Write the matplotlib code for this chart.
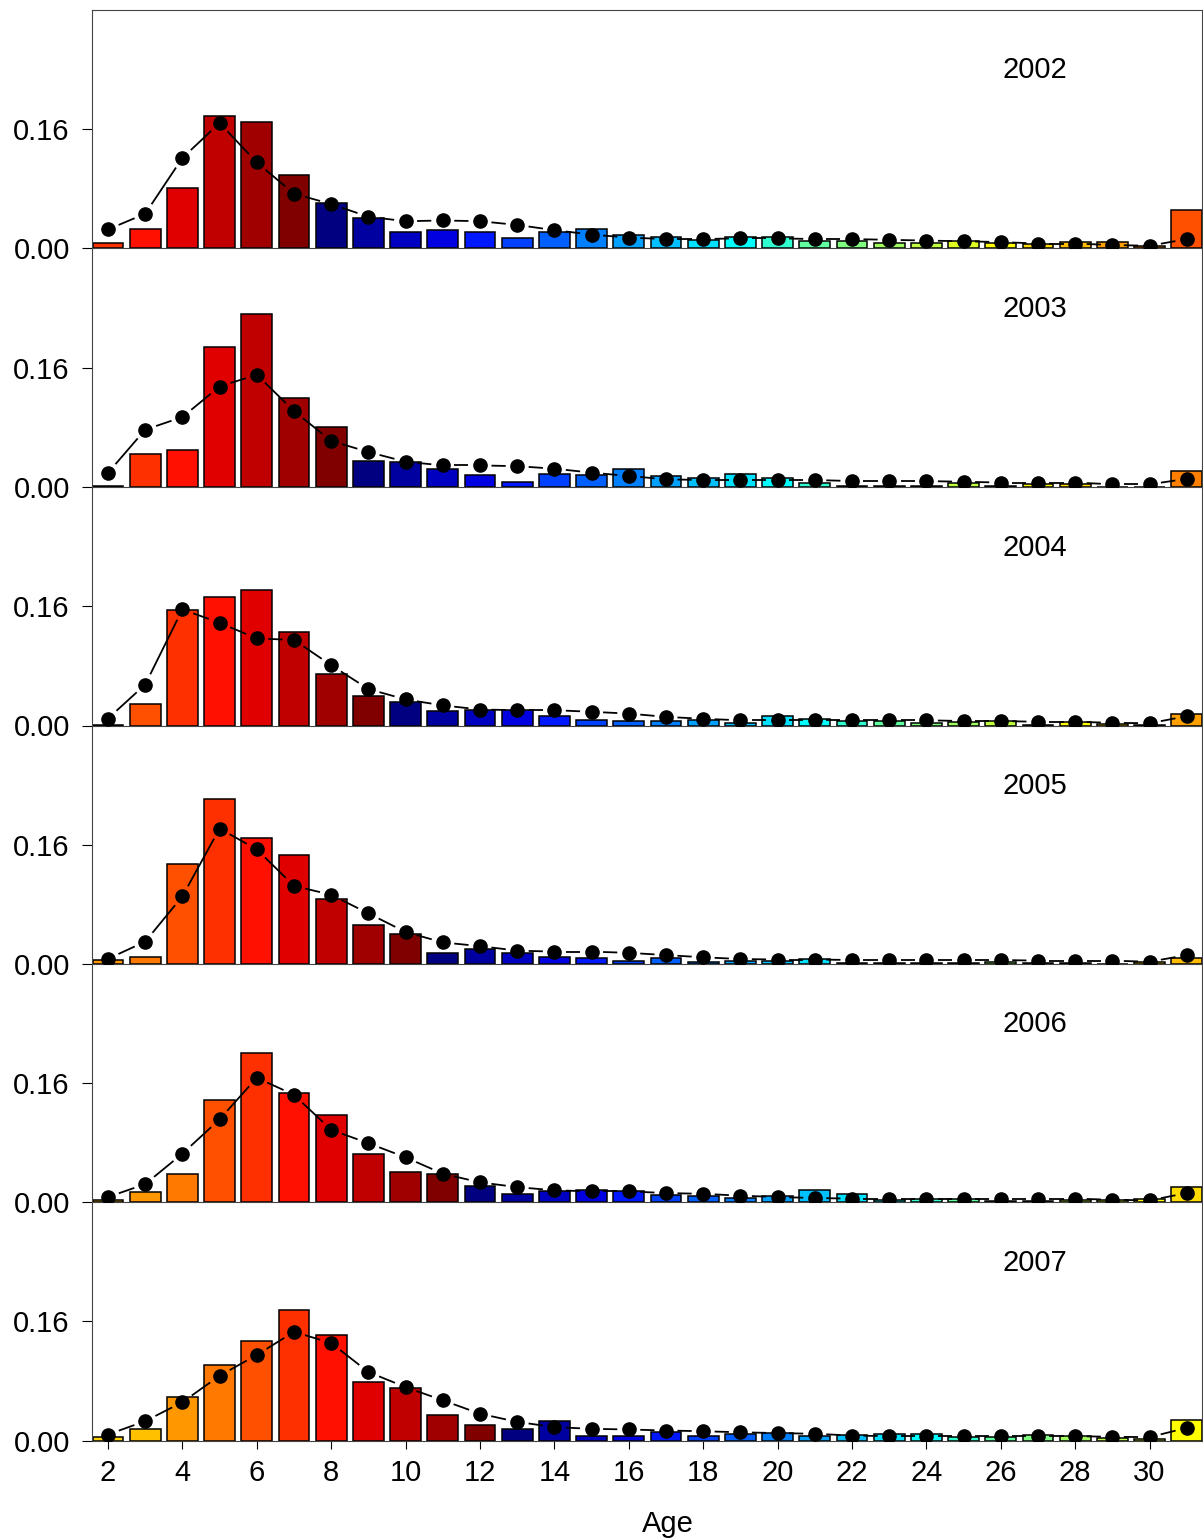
import matplotlib
matplotlib.use('Agg')
import matplotlib.pyplot as plt
import numpy as np

plt.rcParams['font.family'] = ['Liberation Sans', 'DejaVu Sans']

# Age composition by year: bars = observed, dots = fitted
ages = list(range(2, 32))
years = [2002, 2003, 2004, 2005, 2006, 2007]

obs = {
    2002: [0.0067, 0.026, 0.081, 0.178, 0.170, 0.098, 0.061, 0.040, 0.022, 0.024,
           0.021, 0.014, 0.021, 0.026, 0.018, 0.015, 0.011, 0.015, 0.015, 0.009,
           0.010, 0.007, 0.007, 0.010, 0.007, 0.005, 0.008, 0.008, 0.003, 0.051],
    2003: [0.001, 0.044, 0.050, 0.188, 0.232, 0.119, 0.081, 0.035, 0.033, 0.024,
           0.016, 0.007, 0.017, 0.016, 0.024, 0.015, 0.0125, 0.017, 0.0125, 0.005,
           0.002, 0.002, 0.002, 0.005, 0.001, 0.0036, 0.0036, 0.0005, 0.0005, 0.022],
    2004: [0.001, 0.029, 0.155, 0.173, 0.182, 0.126, 0.069, 0.040, 0.032, 0.020,
           0.0215, 0.0215, 0.0134, 0.008, 0.006, 0.006, 0.008, 0.0036, 0.0125, 0.009,
           0.006, 0.006, 0.0036, 0.005, 0.006, 0.001, 0.0045, 0.002, 0.001, 0.016],
    2005: [0.0054, 0.009, 0.134, 0.222, 0.169, 0.147, 0.087, 0.053, 0.040, 0.015,
           0.0197, 0.0143, 0.0099, 0.0076, 0.0045, 0.0076, 0.003, 0.0045, 0.0045, 0.0067,
           0.002, 0.002, 0.0018, 0.001, 0.003, 0.001, 0.002, 0.0005, 0.003, 0.0076],
    2006: [0.0027, 0.0134, 0.038, 0.137, 0.200, 0.146, 0.117, 0.065, 0.040, 0.037,
           0.021, 0.011, 0.0143, 0.0157, 0.0143, 0.0099, 0.0085, 0.0054, 0.0085, 0.0166,
           0.011, 0.0022, 0.004, 0.004, 0.001, 0.002, 0.003, 0.003, 0.004, 0.020],
    2007: [0.0045, 0.016, 0.0587, 0.1017, 0.134, 0.176, 0.142, 0.0789, 0.070, 0.034,
           0.0206, 0.016, 0.026, 0.0058, 0.0067, 0.011, 0.0054, 0.0094, 0.0099, 0.0058,
           0.007, 0.0085, 0.0094, 0.0045, 0.005, 0.008, 0.0058, 0.0036, 0.0022, 0.028],
}

fit = {
    2002: [0.025, 0.046, 0.121, 0.168, 0.115, 0.073, 0.059, 0.042, 0.036, 0.037,
           0.036, 0.031, 0.024, 0.018, 0.014, 0.012, 0.012, 0.013, 0.013, 0.012,
           0.012, 0.011, 0.010, 0.009, 0.008, 0.006, 0.006, 0.004, 0.003, 0.012],
    2003: [0.019, 0.077, 0.094, 0.135, 0.151, 0.102, 0.062, 0.047, 0.034, 0.029,
           0.029, 0.028, 0.0246, 0.0193, 0.0148, 0.0103, 0.0094, 0.0094, 0.0094, 0.0094,
           0.008, 0.008, 0.008, 0.007, 0.006, 0.006, 0.006, 0.0036, 0.0036, 0.011],
    2004: [0.0094, 0.055, 0.156, 0.138, 0.117, 0.115, 0.081, 0.049, 0.035, 0.027,
           0.0215, 0.0206, 0.0206, 0.0184, 0.016, 0.0116, 0.009, 0.007, 0.007, 0.007,
           0.007, 0.007, 0.007, 0.006, 0.006, 0.005, 0.005, 0.0036, 0.003, 0.0125],
    2005: [0.007, 0.030, 0.091, 0.182, 0.154, 0.105, 0.093, 0.068, 0.043, 0.029,
           0.024, 0.018, 0.0166, 0.0166, 0.015, 0.012, 0.009, 0.0067, 0.006, 0.006,
           0.0054, 0.0054, 0.0054, 0.0054, 0.0054, 0.0045, 0.0045, 0.0045, 0.003, 0.012],
    2006: [0.0067, 0.024, 0.065, 0.111, 0.167, 0.144, 0.097, 0.079, 0.060, 0.038,
           0.0264, 0.020, 0.0157, 0.0143, 0.0143, 0.012, 0.011, 0.0085, 0.0067, 0.0054,
           0.0045, 0.0045, 0.0045, 0.0045, 0.0045, 0.0045, 0.0045, 0.003, 0.0022, 0.012],
    2007: [0.008, 0.026, 0.0515, 0.087, 0.115, 0.146, 0.131, 0.092, 0.0717, 0.054,
           0.036, 0.025, 0.018, 0.0157, 0.0148, 0.0134, 0.0125, 0.011, 0.010, 0.009,
           0.0067, 0.0058, 0.0058, 0.0058, 0.0058, 0.0058, 0.0058, 0.005, 0.0045, 0.017],
}

# bar colour follows the cohort (year class)
cohort_colors = {
    1971: '#FF5000', 1972: '#FF8000', 1973: '#FFA000', 1974: '#FFBC00',
    1975: '#FFDC00', 1976: '#FFFF00', 1977: '#E0FF20', 1978: '#C0FF40',
    1979: '#A0FF60', 1980: '#80FF80', 1981: '#60FFA0', 1982: '#30FFD0',
    1983: '#00FFFF', 1984: '#00E0FF', 1985: '#00C0FF', 1986: '#00A0FF',
    1987: '#0080FF', 1988: '#0060FF', 1989: '#0040FF', 1990: '#0018FF',
    1991: '#0000E0', 1992: '#0000C0', 1993: '#0000A0', 1994: '#000080',
    1995: '#800000', 1996: '#A00000', 1997: '#C00000', 1998: '#E00000',
    1999: '#FF1000', 2000: '#FF3000', 2001: '#FF5000', 2002: '#FF7800',
    2003: '#FF9800', 2004: '#FFC000', 2005: '#FFD000',
}

W, H = 1203, 1539
fig = plt.figure(figsize=(W / 100, H / 100), dpi=100)

zero_px = [248, 487, 725.5, 964, 1202, 1440.5]
panel_h = 238.4
xlim = (1.57, 31.41)
ylim = (0, 0.3204)
gap = 11.5  # px gap between line ends and points (type "b")
fs = 21

for i, yr in enumerate(years):
    ax = fig.add_axes([92 / W, (H - zero_px[i]) / H, 1110 / W, panel_h / H])
    ax.set_xlim(*xlim)
    ax.set_ylim(*ylim)
    cols = [cohort_colors[yr - a] for a in ages]
    ax.bar(ages, obs[yr], width=0.83, color=cols, edgecolor='black', linewidth=1.1, zorder=2)

    # lines between points, shortened at both ends
    pts = ax.transData.transform(np.column_stack([ages, fit[yr]]))
    inv = ax.transData.inverted()
    for p0, p1 in zip(pts[:-1], pts[1:]):
        d = p1 - p0
        L = np.hypot(*d)
        if L <= 2 * gap:
            continue
        u = d / L
        seg = inv.transform(np.array([p0 + u * gap, p1 - u * gap]))
        ax.plot(seg[:, 0], seg[:, 1], color='black', lw=1.3, zorder=3, solid_capstyle='butt')
    ax.plot(ages, fit[yr], 'o', color='black', ms=9.5, zorder=4)

    ax.text(0.849, 0.745, str(yr), transform=ax.transAxes, ha='center', va='center', fontsize=fs)

    ax.set_yticks([0, 0.16])
    ax.set_yticklabels(['0.00', '0.16'])
    ax.tick_params(axis='y', direction='out', length=7, width=0.8, labelsize=fs, pad=9)
    ax.set_xticks(range(2, 31, 2))
    if i < len(years) - 1:
        ax.tick_params(axis='x', length=0, labelbottom=False)
    else:
        ax.tick_params(axis='x', direction='out', length=6, width=0.8, labelsize=fs, pad=7)
        ax.set_xlabel('Age', fontsize=fs, labelpad=20)
        ax.xaxis.set_label_coords(0.519, -0.29)
    for side in ['left', 'right', 'bottom', 'top']:
        ax.spines[side].set_linewidth(0.8)
        ax.spines[side].set_color('#444444')
    if i > 0:
        ax.spines['top'].set_visible(False)
    ax.patch.set_alpha(0)

fig.savefig('out.png', dpi=100)
